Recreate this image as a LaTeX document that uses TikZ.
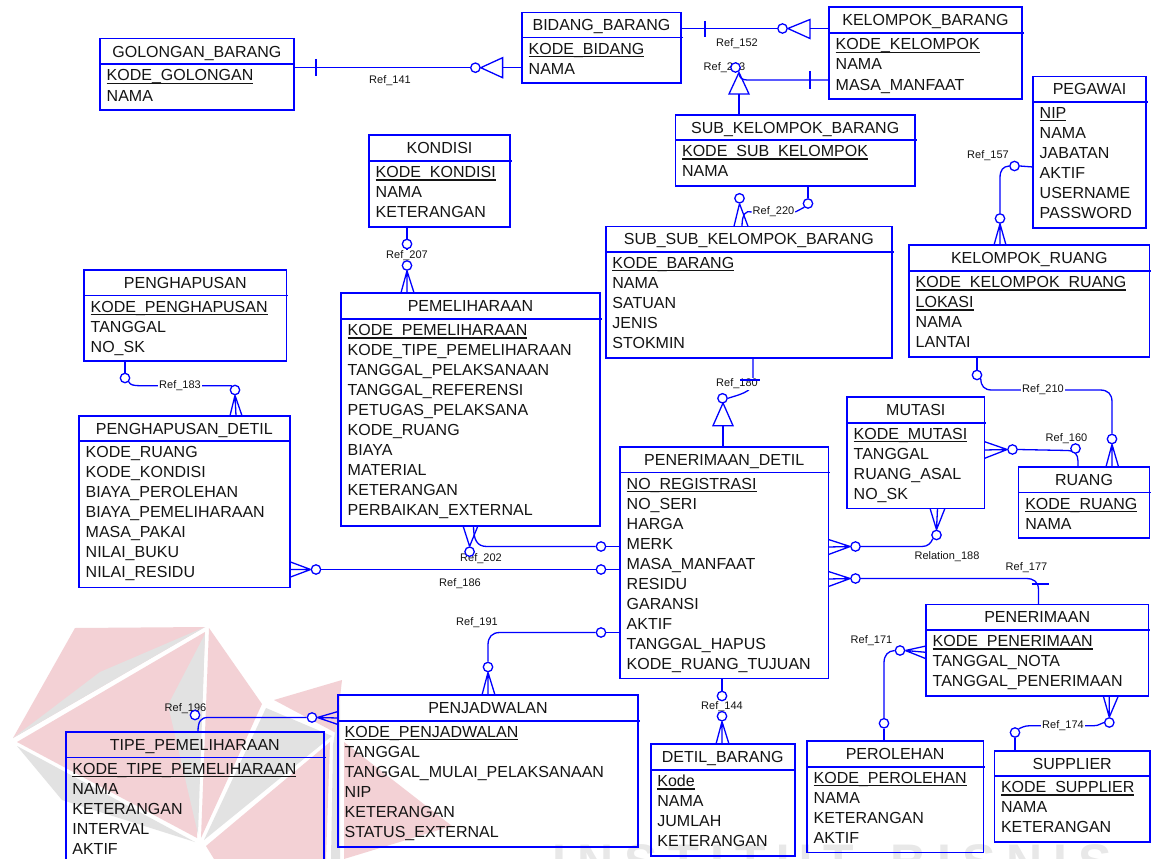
\documentclass[tikz,border=0pt]{standalone}
\usepackage{fontspec}
\setmainfont{Liberation Sans}
\usetikzlibrary{calc}
\pgfdeclarelayer{wm}
\pgfdeclarelayer{lab}
\pgfdeclarelayer{front}
\pgfsetlayers{wm,main,lab,front}

\definecolor{erblue}{RGB}{0,0,255}
\definecolor{ink}{RGB}{20,20,20}
\definecolor{wmpink}{RGB}{243,209,213}
\definecolor{wmgrey}{RGB}{226,226,226}
\definecolor{wmtext}{RGB}{232,232,232}

\tikzset{
  ebox/.style={draw=erblue, line width=1.6pt, inner sep=0pt, outer sep=0pt, anchor=north west},
  sep/.style={draw=erblue, line width=1.6pt},
  ttl/.style={font=\fontsize{16}{19}\selectfont, text=ink, inner sep=0pt, anchor=base},
  att/.style={font=\fontsize{16}{19}\selectfont, text=ink, inner sep=0pt, anchor=base west},
  rel/.style={draw=erblue, line width=1.3pt},
  oc/.style={circle, draw=erblue, fill=white, line width=1.3pt, minimum size=9.4pt, inner sep=0pt},
  lbl/.style={font=\fontsize{11}{13}\selectfont, text=ink, fill=white, inner sep=0.8pt},
  lbln/.style={font=\fontsize{11}{13}\selectfont, text=ink, inner sep=0pt},
  wmchar/.style={font=\fontsize{50}{50}\selectfont\bfseries, text=wmtext, inner sep=0pt, anchor=base west},
}

% primary key: text with a rule at the underscore level
\newcommand\pk[1]{\setbox0\hbox{#1}\rlap{\rule[-2.8pt]{\wd0}{1.1pt}}\box0}

% entity: name, x1, y1, x2, y2, y of title rule, title, attributes
\newcommand\erent[8]{%
  \node[ebox, minimum width={(#4)-(#2)}, minimum height={(#5)-(#3)}] (#1) at (#2,#3) {};
  \draw[sep] (#1.west |- 0,#6) -- (#4+1.5,#6);
  \node[ttl] (#1-t) at ({((#2)+(#4))/2},{((#3)+(#6))/2+5.7}) {#7};
  \foreach \rowtext [count=\k] in {#8} {\node[att] (#1-\k) at (#2+6.5,#6+16.7+20*\k-20) {\rowtext};}
}

\begin{document}
\begin{tikzpicture}[x=1pt,y=-1pt]
\useasboundingbox (0,0) rectangle (1151,859);

% ---------- background logo ----------
\begin{pgfonlayer}{wm}
\fill[white] (0,0) rectangle (1151,859);
\fill[wmpink] (75,628) -- (205,627) -- (13,738) -- cycle;
\fill[wmgrey] (205,627) -- (100,672) -- (13,738) -- cycle;
\fill[wmpink] (205,632) -- (197,838) -- (17,742) -- cycle;
\fill[wmgrey] (17,746) -- (195,842) -- (62,800) -- cycle;
\fill[wmgrey] (205,634) -- (198,834) -- (168,705) -- cycle;
\fill[wmpink] (209,628) -- (262,704) -- (201,838) -- cycle;
\fill[wmgrey] (266,708) -- (332,736) -- (204,840) -- cycle;
\fill[wmpink] (274,700) -- (342,680) -- (336,733) -- cycle;
\fill[wmpink] (206,846) -- (330,742) -- (326,859) -- (214,859) -- cycle;
\fill[wmgrey] (333,745) -- (340,700) -- (340,859) -- (331,859) -- cycle;
\fill[wmpink] (344,742) -- (452,826) -- (344,859) -- cycle;
\foreach \ch/\xx [count=\k] in {I/552,N/577,S/624,T/668.4,I/710,T/734.9,U/776.5,T/823.6,B/890.1,I/937.2,S/962.1,N/1006.5,I/1053.6,S/1078.5}
  \node[wmchar] (wm\k) at (\xx,879) {\ch};
\end{pgfonlayer}

% ---------- entities ----------
\erent{bidang}{522}{12.7}{681}{83}{37.7}{BIDANG\_BARANG}{\pk{KODE\_BIDANG},NAMA}
\erent{golongan}{100}{38.7}{293.7}{110}{64.3}{GOLONGAN\_BARANG}{\pk{KODE\_GOLONGAN},NAMA}
\erent{kelompok}{829}{7.3}{1022}{99}{33.3}{KELOMPOK\_BARANG}{\pk{KODE\_KELOMPOK},NAMA,MASA\_MANFAAT}
\erent{pegawai}{1033}{76.5}{1146}{228}{101.7}{PEGAWAI}{\pk{NIP},NAMA,JABATAN,AKTIF,USERNAME,PASSWORD}
\erent{subkel}{675.4}{115}{915}{185.7}{140}{SUB\_KELOMPOK\_BARANG}{\pk{KODE\_SUB\_KELOMPOK},NAMA}
\erent{kondisi}{369}{135}{510}{227}{161}{KONDISI}{\pk{KODE\_KONDISI},NAMA,KETERANGAN}
\erent{subsub}{605.7}{226.3}{892}{357.7}{251.7}{SUB\_SUB\_KELOMPOK\_BARANG}{\pk{KODE\_BARANG},NAMA,SATUAN,JENIS,STOKMIN}
\erent{kr}{909}{245}{1149.5}{356.7}{271}{KELOMPOK\_RUANG}{\pk{KODE\_KELOMPOK\_RUANG},\pk{LOKASI},NAMA,LANTAI}
\erent{penghapusan}{84}{269.7}{286.6}{361}{295.3}{PENGHAPUSAN}{\pk{KODE\_PENGHAPUSAN},TANGGAL,NO\_SK}
\erent{pem}{341}{292.7}{600}{525.7}{319}{PEMELIHARAAN}{\pk{KODE\_PEMELIHARAAN},KODE\_TIPE\_PEMELIHARAAN,TANGGAL\_PELAKSANAAN,TANGGAL\_REFERENSI,PETUGAS\_PELAKSANA,KODE\_RUANG,BIAYA,MATERIAL,KETERANGAN,PERBAIKAN\_EXTERNAL}
\erent{hd}{79}{415.7}{289.7}{587.3}{441}{PENGHAPUSAN\_DETIL}{KODE\_RUANG,KODE\_KONDISI,BIAYA\_PEROLEHAN,BIAYA\_PEMELIHARAAN,MASA\_PAKAI,NILAI\_BUKU,NILAI\_RESIDU}
\erent{mutasi}{847}{396.7}{984.6}{508.3}{422.7}{MUTASI}{\pk{KODE\_MUTASI},TANGGAL,RUANG\_ASAL,NO\_SK}
\erent{ruang}{1018.6}{466.7}{1149.5}{537.7}{492.3}{RUANG}{\pk{KODE\_RUANG},NAMA}
\erent{td}{620}{446.7}{828.5}{678.5}{472.3}{PENERIMAAN\_DETIL}{\pk{NO\_REGISTRASI},NO\_SERI,HARGA,MERK,MASA\_MANFAAT,RESIDU,GARANSI,AKTIF,TANGGAL\_HAPUS,KODE\_RUANG\_TUJUAN}
\erent{pn}{926}{604.3}{1148.3}{696}{630}{PENERIMAAN}{\pk{KODE\_PENERIMAAN},TANGGAL\_NOTA,TANGGAL\_PENERIMAAN}
\erent{pj}{338}{695}{638}{846.7}{720.7}{PENJADWALAN}{\pk{KODE\_PENJADWALAN},TANGGAL,TANGGAL\_MULAI\_PELAKSANAAN,NIP,KETERANGAN,STATUS\_EXTERNAL}
\erent{tipe}{65.7}{731.7}{324}{885}{757.3}{TIPE\_PEMELIHARAAN}{\pk{KODE\_TIPE\_PEMELIHARAAN},NAMA,KETERANGAN,INTERVAL,AKTIF}
\erent{detil}{650.7}{744}{794.7}{855.7}{770}{DETIL\_BARANG}{\pk{Kode},NAMA,JUMLAH,KETERANGAN}
\erent{perolehan}{807}{741}{983.3}{852.3}{766.7}{PEROLEHAN}{\pk{KODE\_PEROLEHAN},NAMA,KETERANGAN,AKTIF}
\erent{supplier}{994.3}{750.7}{1150}{841.7}{776}{SUPPLIER}{\pk{KODE\_SUPPLIER},NAMA,KETERANGAN}

% ---------- optionality circles ----------
\begin{pgfonlayer}{front}
\node[oc] (c141) at (475.4,67.7) {};
\node[oc] (c152) at (782.5,28.5) {};
\node[oc] (c213) at (735.5,67.5) {};
\node[oc] (c220a) at (808,203.5) {};
\node[oc] (c220b) at (739.5,198.3) {};
\node[oc] (c207a) at (407,244) {};
\node[oc] (c207b) at (407,265.5) {};
\node[oc] (c183a) at (125,378) {};
\node[oc] (c183b) at (235,390) {};
\node[oc] (c186a) at (316,569.5) {};
\node[oc] (c186b) at (601,569.5) {};
\node[oc] (c202a) at (469.6,551.7) {};
\node[oc] (c202b) at (601,546.5) {};
\node[oc] (c191a) at (601,632.5) {};
\node[oc] (c191b) at (488,667) {};
\node[oc] (c196a) at (312,717.5) {};
\node[oc] (c196b) at (195,715) {};
\node[oc] (c144a) at (722,696) {};
\node[oc] (c144b) at (722,716.2) {};
\node[oc] (c180) at (722.5,398.3) {};
\node[oc] (c157a) at (1014.5,166) {};
\node[oc] (c157b) at (1000,218.5) {};
\node[oc] (c210a) at (977,375) {};
\node[oc] (c210b) at (1112,439) {};
\node[oc] (c160a) at (1012.5,449.5) {};
\node[oc] (c160b) at (1075.5,448.5) {};
\node[oc] (c188a) at (855.5,546.5) {};
\node[oc] (c188b) at (936.5,535) {};
\node[oc] (c177) at (855.5,578.5) {};
\node[oc] (c171a) at (900,650.5) {};
\node[oc] (c171b) at (884,723.3) {};
\node[oc] (c174a) at (1109.3,722.5) {};
\node[oc] (c174b) at (1015,732.5) {};
% bars across the lines
\draw[rel] (316,59) -- (316,76.5);
\draw[rel] (705,21) -- (705,37.5);
\draw[rel] (810,71) -- (810,88.5);
\draw[rel] (740,380) -- (760,380);
\draw[rel] (1031.5,584) -- (1048.5,584);
\end{pgfonlayer}

% ---------- relationship labels ----------
\begin{pgfonlayer}{lab}
\node[lbln] (l141) at (390,81) {Ref\_141};
\node[lbln] (l152) at (737,43.5) {Ref\_152};
\node[lbln, anchor=east] (l213) at (745.5,68) {Ref\_213};
\node[lbl] (l220) at (773.5,212) {Ref\_220};
\node[lbl] (l207) at (407,256) {Ref\_207};
\node[lbl] (l183) at (180,385.7) {Ref\_183};
\node[lbln] (l186) at (460,583.5) {Ref\_186};
\node[lbln] (l202) at (481,559) {Ref\_202};
\node[lbln] (l191) at (477,622.5) {Ref\_191};
\node[lbln] (l196) at (185.5,708.5) {Ref\_196};
\node[lbl] (l144) at (722,707) {Ref\_144};
\node[lbl] (l180) at (737,384) {Ref\_180};
\node[lbln] (l157) at (988,156) {Ref\_157};
\node[lbl] (l210) at (1043,390) {Ref\_210};
\node[lbln] (l160) at (1066.5,438.5) {Ref\_160};
\node[lbln] (l188) at (947,556.5) {Relation\_188};
\node[lbln] (l177) at (1026.5,567.5) {Ref\_177};
\node[lbln] (l171) at (871.5,640.5) {Ref\_171};
\node[lbl] (l174) at (1063,725.7) {Ref\_174};
\end{pgfonlayer}

% ---------- relationships ----------
% Ref_141
\draw[rel] (golongan.east |- 0,67.7) -- (c141.west);
\draw[rel] (c141.east) -- (502.6,57.7) -- (502.6,77.7) -- cycle;
\draw[rel] (502.6,67.7) -- (bidang.west |- 0,67.7);
% Ref_152
\draw[rel] (bidang.east |- 0,28.5) -- (c152.west);
\draw[rel] (c152.east) -- (810,19.5) -- (810,38.5) -- cycle;
\draw[rel] (810,28.5) -- (kelompok.west |- 0,28.5);
% Ref_213
\draw[rel] (kelompok.west |- 0,80) -- (747,80) .. controls (742,80) and (739,77.5) .. (739,73);
\draw[rel] (739,72.5) -- (749,94) -- (729,94) -- cycle;
\draw[rel] (739,94) -- (739,0 |- subkel.north);
% Ref_220
\draw[rel] (808,0 |- subkel.south) -- (c220a.north);
\draw[rel] (c220a.south west) -- (l220.east);
\draw[rel] (l220.west) .. controls (746,210) and (742,214) .. (742,0 |- subsub.north);
\draw[rel] (c220b.south) -- (734,0 |- subsub.north) (c220b.south) -- (748,0 |- subsub.north);
% Ref_207
\draw[rel] (407,0 |- kondisi.south) -- (c207a.north);
\draw[rel] (c207a.south) -- (c207b.north);
\draw[rel] (c207b.south) -- (401,0 |- pem.north) (c207b.south) -- (407,0 |- pem.north) (c207b.south) -- (414,0 |- pem.north);
% Ref_183
\draw[rel] (125,0 |- penghapusan.south) -- (c183a.north);
\draw[rel] (c183a.south east) .. controls (130,385) and (134,385.7) .. (140,385.7) -- (229,385.7) .. controls (231.5,385.7) .. (c183b.north west);
\draw[rel] (c183b.south) -- (230,0 |- hd.north) (c183b.south) -- (236,0 |- hd.north) (c183b.south) -- (242,0 |- hd.north);
% Ref_186
\draw[rel] (c186a.west) -- (hd.east |- 0,561.7) (c186a.west) -- (hd.east |- 0,569.5) (c186a.west) -- (hd.east |- 0,577.3);
\draw[rel] (c186a.east) -- (c186b.west);
\draw[rel] (c186b.east) -- (td.west |- 0,569.5);
% Ref_202
\draw[rel] (c202a.north) -- (463,0 |- pem.south) (c202a.north) -- (478,0 |- pem.south);
\draw[rel] (473.5,0 |- pem.south) .. controls (473.5,540) and (477,546.5) .. (487,546.5) -- (c202b.west);
\draw[rel] (c202b.east) -- (td.west |- 0,546.5);
% Ref_191
\draw[rel] (td.west |- 0,632.5) -- (c191a.east);
\draw[rel] (c191a.west) -- (500,632.5) .. controls (492,632.5) and (488,637) .. (488,645) -- (c191b.north);
\draw[rel] (c191b.south) -- (482,0 |- pj.north) (c191b.south) -- (488,0 |- pj.north) (c191b.south) -- (495,0 |- pj.north);
% Ref_196
\draw[rel] (c196a.east) -- (pj.west |- 0,711.5) (c196a.east) -- (pj.west |- 0,718) (c196a.east) -- (pj.west |- 0,724.5);
\draw[rel] (c196a.west) -- (208,717.5) .. controls (201,717.5) and (198,721) .. (198,0 |- tipe.north);
% Ref_144
\draw[rel] (722,0 |- td.south) -- (c144a.north);
\draw[rel] (c144a.south) -- (c144b.north);
\draw[rel] (c144b.south) -- (716,0 |- detil.north) (c144b.south) -- (722,0 |- detil.north) (c144b.south) -- (729,0 |- detil.north);
% Ref_180
\draw[rel] (753,0 |- subsub.south) -- (753,382) .. controls (753,392) and (738,395) .. (c180.east);
\draw[rel] (723,403) -- (733,425.7) -- (713,425.7) -- cycle;
\draw[rel] (723,425.7) -- (723,0 |- td.north);
% Ref_157
\draw[rel] (pegawai.west |- 0,167) -- (c157a.east);
\draw[rel] (c157a.west) .. controls (1003,166.5) and (1000,170) .. (1000,178) -- (c157b.north);
\draw[rel] (c157b.south) -- (994,0 |- kr.north) (c157b.south) -- (1000,0 |- kr.north) (c157b.south) -- (1006,0 |- kr.north);
% Ref_210
\draw[rel] (977,0 |- kr.south) -- (c210a.north);
\draw[rel] (c210a.south east) .. controls (981,386) and (984,390) .. (992,390) -- (1100,390) .. controls (1108,390) and (1112,394) .. (1112,402) -- (c210b.north);
\draw[rel] (c210b.south) -- (1106,0 |- ruang.north) (c210b.south) -- (1112,0 |- ruang.north) (c210b.south) -- (1118.5,0 |- ruang.north);
% Ref_160
\draw[rel] (c160a.west) -- (mutasi.east |- 0,441.7) (c160a.west) -- (mutasi.east |- 0,450) (c160a.west) -- (mutasi.east |- 0,458.3);
\draw[rel] (c160a.east) -- (1068,450.5) .. controls (1074,450.5) and (1078,454) .. (1078,461) -- (1078,0 |- ruang.north);
% Relation_188
\draw[rel] (c188a.west) -- (td.east |- 0,539.5) (c188a.west) -- (td.east |- 0,547) (c188a.west) -- (td.east |- 0,554.5);
\draw[rel] (c188a.east) -- (922,546.5) .. controls (928,546.5) and (931,543) .. (c188b.south west);
\draw[rel] (c188b.north) -- (930,0 |- mutasi.south) (c188b.north) -- (937.5,0 |- mutasi.south) (c188b.north) -- (945,0 |- mutasi.south);
% Ref_177
\draw[rel] (c177.west) -- (td.east |- 0,571.5) (c177.west) -- (td.east |- 0,579) (c177.west) -- (td.east |- 0,586.5);
\draw[rel] (c177.east) -- (1026,578.5) .. controls (1034,578.5) and (1038.5,582) .. (1038.5,590) -- (1038.5,0 |- pn.north);
% Ref_171
\draw[rel] (c171a.east) -- (pn.west |- 0,646) (c171a.east) -- (pn.west |- 0,652.3) (c171a.east) -- (pn.west |- 0,658.7);
\draw[rel] (c171a.west) .. controls (888,651) and (884,655) .. (884,663) -- (c171b.north);
\draw[rel] (c171b.south) -- (884,0 |- perolehan.north);
% Ref_174
\draw[rel] (c174a.north) -- (1103.3,0 |- pn.south) (c174a.north) -- (1109.3,0 |- pn.south) (c174a.north) -- (1118.3,0 |- pn.south);
\draw[rel] (c174a.west) .. controls (1100,723.5) and (1099,725.7) .. (1094,725.7) -- (1030,725.7) .. controls (1024,725.7) and (1021,728) .. (c174b.north east);
\draw[rel] (c174b.south) -- (1015,0 |- supplier.north);
\end{tikzpicture}
\end{document}
